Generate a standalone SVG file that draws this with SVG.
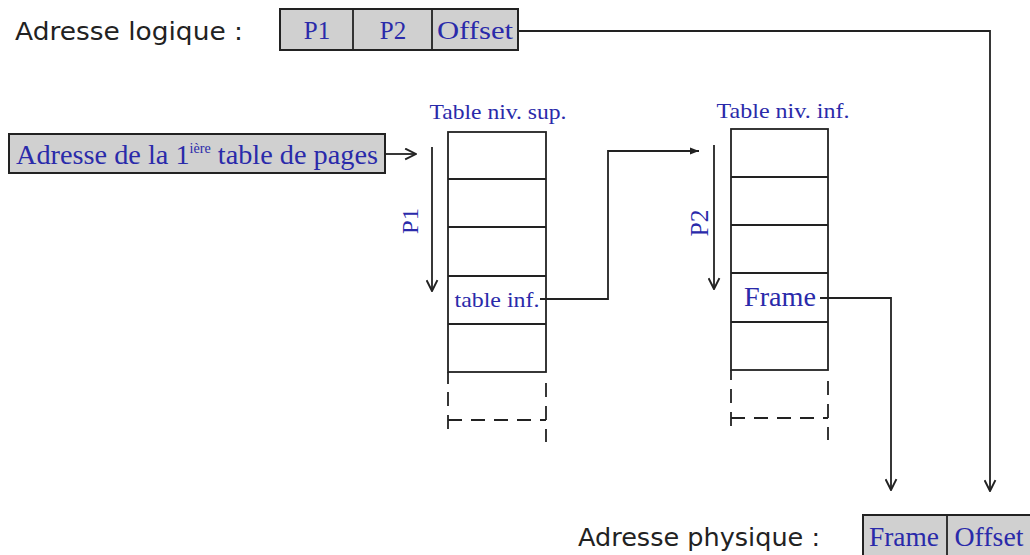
<svg xmlns="http://www.w3.org/2000/svg" width="1030" height="555" viewBox="0 0 1030 555">
<style>
.lbl{font-family:"DejaVu Sans","Verdana",sans-serif;font-size:25px;fill:#222}
.blue{font-family:"Liberation Serif","Times New Roman",serif;fill:#2a2aaa}
.box{fill:#d0d0d0;stroke:#222;stroke-width:2}
.cell{fill:#fff;stroke:#222;stroke-width:1.8}
.ln{fill:none;stroke:#222;stroke-width:1.8}
.dash{fill:none;stroke:#222;stroke-width:1.8;stroke-dasharray:14,9}
</style>
<defs>
<marker id="ah" viewBox="0 0 12 12" refX="11" refY="6" markerWidth="13" markerHeight="13" markerUnits="userSpaceOnUse" orient="auto">
<path d="M1,1 L11,6 L1,11" fill="none" stroke="#222" stroke-width="1.8"/>
</marker>
<marker id="af" viewBox="0 0 10 10" refX="10" refY="5" markerWidth="9" markerHeight="9" markerUnits="userSpaceOnUse" orient="auto">
<path d="M0,1 L10,5 L0,9 Z" fill="#222"/>
</marker>
</defs>
<rect width="1030" height="555" fill="#fff"/>

<g id="logical">
<text class="lbl" x="15" y="40" textLength="228" lengthAdjust="spacingAndGlyphs">Adresse logique :</text>
<rect class="box" x="280" y="9" width="238" height="41"/>
<line class="ln" x1="353" y1="9" x2="353" y2="50"/>
<line class="ln" x1="432" y1="9" x2="432" y2="50"/>
<text class="blue" x="317" y="39" font-size="25" text-anchor="middle">P1</text>
<text class="blue" x="393" y="39" font-size="25" text-anchor="middle">P2</text>
<text class="blue" x="475" y="39" font-size="25" text-anchor="middle" textLength="76" lengthAdjust="spacingAndGlyphs">Offset</text>
</g>

<g id="first-table-addr">
<rect class="box" x="9" y="134" width="376" height="39"/>
<text class="blue" x="16" y="164" font-size="28" textLength="362" lengthAdjust="spacingAndGlyphs">Adresse de la 1<tspan font-size="14" dy="-11">ière</tspan><tspan dy="11"> table de pages</tspan></text>
</g>

<g id="table-sup">
<text class="blue" x="498" y="119" font-size="22" text-anchor="middle" textLength="137" lengthAdjust="spacingAndGlyphs">Table niv. sup.</text>
<rect class="cell" x="448" y="132" width="98" height="240"/>
<line class="ln" x1="448" y1="179" x2="546" y2="179"/>
<line class="ln" x1="448" y1="227" x2="546" y2="227"/>
<line class="ln" x1="448" y1="276" x2="546" y2="276"/>
<line class="ln" x1="448" y1="324" x2="546" y2="324"/>
<text class="blue" x="497" y="307" font-size="22" text-anchor="middle" textLength="85" lengthAdjust="spacingAndGlyphs">table inf.</text>
<line class="ln" x1="448" y1="372" x2="448" y2="384"/>
<path class="dash" d="M448,392 L448,436"/>
<path class="dash" d="M546,383 L546,442"/>
<line class="dash" x1="448" y1="420" x2="546" y2="420"/>
<line class="ln" x1="432" y1="147" x2="432" y2="291" marker-end="url(#ah)"/>
<text class="blue" x="0" y="0" font-size="23" text-anchor="middle" textLength="26" lengthAdjust="spacingAndGlyphs" transform="translate(418,221) rotate(-90)">P1</text>
</g>

<g id="table-inf">
<text class="blue" x="783" y="118" font-size="22" text-anchor="middle" textLength="133" lengthAdjust="spacingAndGlyphs">Table niv. inf.</text>
<rect class="cell" x="731" y="129" width="97" height="241"/>
<line class="ln" x1="731" y1="177" x2="828" y2="177"/>
<line class="ln" x1="731" y1="225" x2="828" y2="225"/>
<line class="ln" x1="731" y1="273" x2="828" y2="273"/>
<line class="ln" x1="731" y1="322" x2="828" y2="322"/>
<text class="blue" x="780" y="306" font-size="28" text-anchor="middle" textLength="72" lengthAdjust="spacingAndGlyphs">Frame</text>
<line class="ln" x1="731" y1="370" x2="731" y2="380"/>
<path class="dash" d="M731,389 L731,430"/>
<path class="dash" d="M828,381 L828,440"/>
<line class="dash" x1="731" y1="418" x2="828" y2="418"/>
<line class="ln" x1="714" y1="145" x2="714" y2="289" marker-end="url(#ah)"/>
<text class="blue" x="0" y="0" font-size="25" text-anchor="middle" textLength="27" lengthAdjust="spacingAndGlyphs" transform="translate(708,223) rotate(-90)">P2</text>
</g>

<g id="physical">
<text class="lbl" x="578" y="546" textLength="242" lengthAdjust="spacingAndGlyphs">Adresse physique :</text>
<rect class="box" x="863" y="515" width="175" height="50"/>
<line class="ln" x1="947" y1="515" x2="947" y2="555"/>
<text class="blue" x="904" y="546" font-size="27" text-anchor="middle" textLength="70" lengthAdjust="spacingAndGlyphs">Frame</text>
<text class="blue" x="989" y="546" font-size="27" text-anchor="middle" textLength="69" lengthAdjust="spacingAndGlyphs">Offset</text>
</g>

<g id="connectors">
<polyline class="ln" points="518,31 990,31 990,491" marker-end="url(#ah)"/>
<line class="ln" x1="385" y1="154" x2="416" y2="154" marker-end="url(#ah)"/>
<polyline class="ln" points="540,299 608,299 608,151 699,151" marker-end="url(#af)"/>
<polyline class="ln" points="820,298 891,298 891,490" marker-end="url(#ah)"/>
</g>
</svg>
